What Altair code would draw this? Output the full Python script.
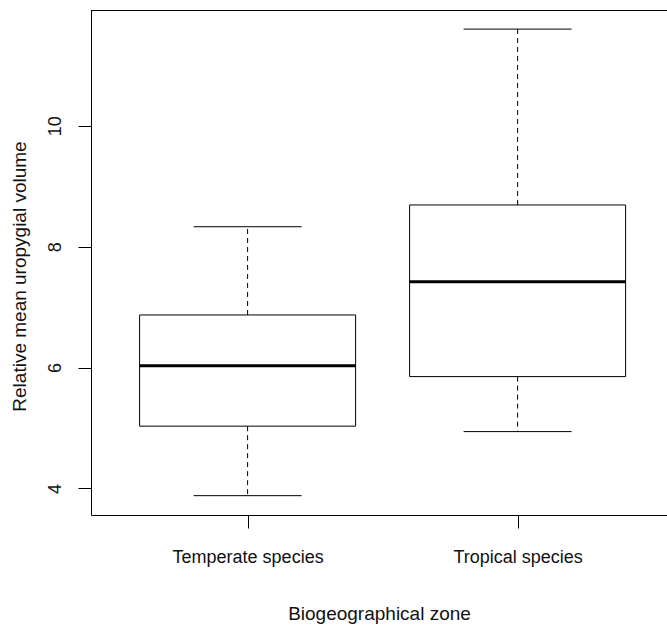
import altair as alt
import pandas as pd

# Summary statistics of each group (box-and-whisker)
groups = ["Temperate species", "Tropical species"]
positions = [1, 2]
whisker_low = [3.88, 4.94]
q1 = [5.03, 5.85]
median = [6.03, 7.42]
q3 = [6.87, 8.69]
whisker_high = [8.33, 11.60]

y_ticks = [4, 6, 8, 10]

df = pd.DataFrame({
    "group": groups,
    "pos": positions,
    "lo": whisker_low,
    "q1": q1,
    "med": median,
    "q3": q3,
    "hi": whisker_high,
})

FONT = "Liberation Sans"
INK = "#111111"
W, H = 576, 505
x_dom = [0.42, 0.42 + W / 270]
y_dom = [3.56, 11.916]

label_expr = " : ".join(
    f"datum.value == {p} ? '{g}'" for p, g in zip(positions, groups)
) + " : ''"

x_scale = alt.Scale(domain=x_dom, nice=False, zero=False)
y_scale = alt.Scale(domain=y_dom, nice=False, zero=False)

x_axis = alt.Axis(
    values=positions, labelExpr=label_expr, title="Biogeographical zone",
    grid=False, tickSize=13, tickColor="black", domainColor="black",
    labelColor=INK, labelFont=FONT, labelFontSize=18, labelPadding=20,
    titleFont=FONT, titleFontSize=19, titleFontWeight="normal", titleColor=INK,
    titleBaseline="alphabetic", titleY=104,
)
y_axis = alt.Axis(
    values=y_ticks, format="d", title="Relative mean uropygial volume",
    grid=False, tickSize=13, tickColor="black", domainColor="black",
    labelColor=INK, labelFont=FONT, labelFontSize=18, labelPadding=14,
    labelAngle=270,
    titleFont=FONT, titleFontSize=19, titleFontWeight="normal", titleColor=INK,
    titleBaseline="alphabetic", titleX=-66, titleY=266,
)

base = alt.Chart(df).transform_calculate(
    left="datum.pos - 0.4", right="datum.pos + 0.4",
    capl="datum.pos - 0.2", capr="datum.pos + 0.2",
)

whisk_up = base.mark_rule(color="black", strokeWidth=1, strokeDash=[5, 4]).encode(
    x=alt.X("pos:Q", scale=x_scale, axis=x_axis),
    y=alt.Y("q3:Q", scale=y_scale, axis=y_axis),
    y2="hi:Q",
)
whisk_dn = base.mark_rule(color="black", strokeWidth=1, strokeDash=[5, 4]).encode(
    x=alt.X("pos:Q", scale=x_scale),
    y=alt.Y("q1:Q", scale=y_scale),
    y2="lo:Q",
)
cap_hi = base.mark_rule(color="black", strokeWidth=1).encode(
    x=alt.X("capl:Q", scale=x_scale), x2="capr:Q",
    y=alt.Y("hi:Q", scale=y_scale),
)
cap_lo = base.mark_rule(color="black", strokeWidth=1).encode(
    x=alt.X("capl:Q", scale=x_scale), x2="capr:Q",
    y=alt.Y("lo:Q", scale=y_scale),
)
box = base.mark_rect(fill="white", stroke="black", strokeWidth=1).encode(
    x=alt.X("left:Q", scale=x_scale), x2="right:Q",
    y=alt.Y("q1:Q", scale=y_scale), y2="q3:Q",
)
med = base.mark_rule(color="black", strokeWidth=3).encode(
    x=alt.X("left:Q", scale=x_scale), x2="right:Q",
    y=alt.Y("med:Q", scale=y_scale),
)
top_frame = alt.Chart(df).mark_rule(color="black", strokeWidth=1).encode(
    x=alt.value(0), x2=alt.value(W), y=alt.value(0.5),
)

chart = alt.layer(whisk_up, whisk_dn, cap_hi, cap_lo, box, med, top_frame).properties(
    width=W, height=H,
    autosize=alt.AutoSizeParams(type="none"),
    padding={"left": 91, "top": 10, "right": 0, "bottom": 112},
    background="white",
).configure_view(stroke=None)

chart.save("out.html", embed_options={"renderer": "svg", "actions": False})
